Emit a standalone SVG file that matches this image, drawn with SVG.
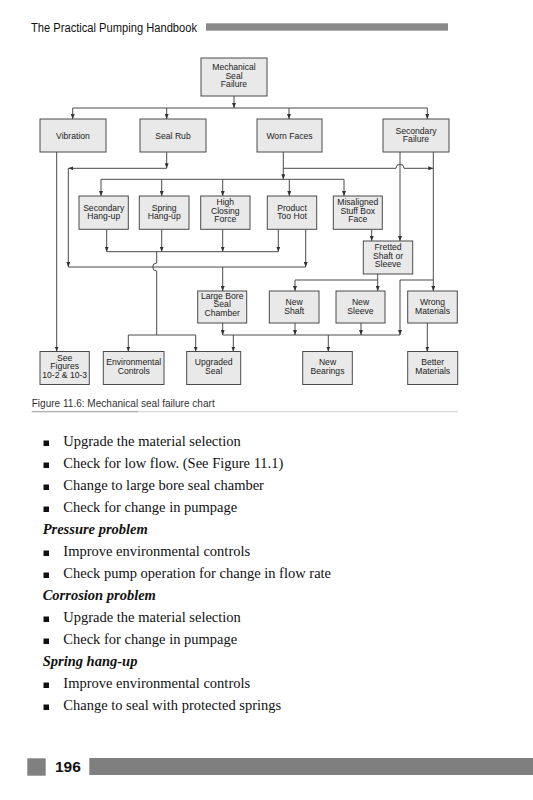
<svg xmlns="http://www.w3.org/2000/svg" width="533" height="800" viewBox="0 0 533 800">
<style>
.bx rect{fill:#e9e9e9;stroke:#4a4a4a;stroke-width:1}
.bx text{font-family:"Liberation Sans",Arial,sans-serif;font-size:8.6px;fill:#222;text-anchor:middle}
.cn path{fill:none;stroke:#4a4a4a;stroke-width:1}
.ar{marker-end:url(#ah)}
.body{font-family:"Liberation Serif","Times New Roman",serif;font-size:14.5px;fill:#111}
.hd{font-family:"Liberation Serif","Times New Roman",serif;font-size:14.5px;font-style:italic;font-weight:bold;fill:#111}
.bul{fill:#111}
</style>
<defs>
<marker id="ah" viewBox="0 0 10 8" refX="10" refY="4" markerWidth="5" markerHeight="4" markerUnits="userSpaceOnUse" orient="auto">
<path d="M0,0 L10,4 L0,8 z" fill="#333"/>
</marker>
</defs>
<rect width="533" height="800" fill="#fff"/>
<g id="header">
<text x="31" y="31.5" font-family="Liberation Sans,Arial,sans-serif" font-size="12" fill="#111" textLength="166" lengthAdjust="spacingAndGlyphs">The Practical Pumping Handbook</text>
<rect x="206" y="23.3" width="242" height="7.4" fill="#8a8a8a"/>
</g>
<g class="cn" id="connectors">
<path class="ar" d="M234,96 V108"/>
<path d="M72.7,108 H427.3"/>
<path class="ar" d="M72.7,108 V119"/>
<path class="ar" d="M166.7,108 V119"/>
<path class="ar" d="M289,108 V119"/>
<path class="ar" d="M427.3,108 V119"/>
<path class="ar" d="M56.7,152 V351.5"/>
<path class="ar" d="M166.7,152 V168.3"/>
<path class="ar" d="M166.7,168.3 H68.3"/>
<path class="ar" d="M68.3,168.3 V267"/>
<path d="M68.3,267 H305.7"/>
<path class="ar" d="M283.3,152 V179.3"/>
<path class="ar" d="M283.3,168.3 H396 A4,4 0 0 1 404,168.3 H433.3"/>
<path d="M101,179.3 H344"/>
<path class="ar" d="M101,179.3 V196"/>
<path class="ar" d="M161.7,179.3 V196"/>
<path class="ar" d="M222.7,179.3 V196"/>
<path class="ar" d="M289.3,179.3 V196"/>
<path class="ar" d="M344,179.3 V196"/>
<path class="ar" d="M400,152 V241"/>
<path class="ar" d="M433.3,152 V291"/>
<path class="ar" d="M106.7,229.3 V251.7"/>
<path class="ar" d="M161.7,229.3 V251.7"/>
<path class="ar" d="M222.7,229.3 V251.7"/>
<path class="ar" d="M278.3,229.3 V251.7"/>
<path d="M106.7,251.7 H278.3"/>
<path class="ar" d="M305.7,229.3 V267"/>
<path class="ar" d="M371.7,229.3 V241"/>
<path d="M156.7,251.7 V263 A4,4 0 0 0 156.7,271 V335"/>
<path d="M128.3,335 H195.7"/>
<path class="ar" d="M128.3,335 V351.5"/>
<path class="ar" d="M195.7,335 V351.5"/>
<path class="ar" d="M222.7,267 V291"/>
<path d="M377.7,274 V280 H295"/>
<path class="ar" d="M295,280 V291"/>
<path class="ar" d="M377.7,280 V291"/>
<path class="ar" d="M433.3,280 H400 V335"/>
<path class="ar" d="M222.7,323 V335"/>
<path class="ar" d="M295,323 V335"/>
<path class="ar" d="M361,323 V335"/>
<path d="M222.7,335 H400"/>
<path class="ar" d="M233.3,335 V351.5"/>
<path class="ar" d="M328.3,335 V351.5"/>
<path class="ar" d="M427.3,323 V351.5"/>
</g>
<g class="bx" id="n-msf"><rect x="201" y="58" width="66" height="38"/><text x="234" y="70">Mechanical</text><text x="234" y="78.5">Seal</text><text x="234" y="87">Failure</text></g>
<g class="bx" id="n-vibration"><rect x="40" y="119" width="66" height="33"/><text x="73" y="138.5">Vibration</text></g>
<g class="bx" id="n-sealrub"><rect x="140" y="119" width="66" height="33"/><text x="173" y="139">Seal Rub</text></g>
<g class="bx" id="n-wornfaces"><rect x="257" y="119" width="65" height="33"/><text x="289.5" y="138.5">Worn Faces</text></g>
<g class="bx" id="n-secfail"><rect x="383" y="119" width="66" height="33"/><text x="416" y="133.5">Secondary</text><text x="416" y="142">Failure</text></g>
<g class="bx" id="n-sechang"><rect x="79" y="196" width="49.3" height="33.3"/><text x="103.7" y="210.7">Secondary</text><text x="103.7" y="219.2">Hang-up</text></g>
<g class="bx" id="n-springhang"><rect x="139.3" y="196" width="49.7" height="33.3"/><text x="164.2" y="210.7">Spring</text><text x="164.2" y="219.2">Hang-up</text></g>
<g class="bx" id="n-hcf"><rect x="200.7" y="196" width="49.3" height="33.3"/><text x="225.3" y="205">High</text><text x="225.3" y="213.5">Closing</text><text x="225.3" y="222">Force</text></g>
<g class="bx" id="n-pth"><rect x="267.3" y="196" width="49.4" height="33.3"/><text x="292" y="210.7">Product</text><text x="292" y="219.2">Too Hot</text></g>
<g class="bx" id="n-misaligned"><rect x="333.3" y="196" width="49" height="33.3"/><text x="357.8" y="205">Misaligned</text><text x="357.8" y="213.5">Stuff Box</text><text x="357.8" y="222">Face</text></g>
<g class="bx" id="n-fretted"><rect x="363.3" y="241" width="49.4" height="33"/><text x="388" y="250">Fretted</text><text x="388" y="258.5">Shaft or</text><text x="388" y="267">Sleeve</text></g>
<g class="bx" id="n-lbsc"><rect x="197.7" y="291" width="49" height="32"/><text x="222.2" y="298.7">Large Bore</text><text x="222.2" y="307.3">Seal</text><text x="222.2" y="315.9">Chamber</text></g>
<g class="bx" id="n-newshaft"><rect x="269.3" y="291" width="49.7" height="32"/><text x="294.2" y="305">New</text><text x="294.2" y="313.5">Shaft</text></g>
<g class="bx" id="n-newsleeve"><rect x="336" y="291" width="49" height="32"/><text x="360.5" y="305">New</text><text x="360.5" y="313.5">Sleeve</text></g>
<g class="bx" id="n-wrongmat"><rect x="407.7" y="291" width="49.6" height="32"/><text x="432.5" y="305">Wrong</text><text x="432.5" y="313.5">Materials</text></g>
<g class="bx" id="n-seefig"><rect x="40" y="351.5" width="49.3" height="33"/><text x="64.7" y="360.5">See</text><text x="64.7" y="369">Figures</text><text x="64.7" y="377.5">10-2 &amp; 10-3</text></g>
<g class="bx" id="n-envctl"><rect x="103.3" y="351.5" width="60.7" height="33"/><text x="133.7" y="365">Environmental</text><text x="133.7" y="373.5">Controls</text></g>
<g class="bx" id="n-upgseal"><rect x="186.7" y="351.5" width="54" height="33"/><text x="213.7" y="365">Upgraded</text><text x="213.7" y="373.5">Seal</text></g>
<g class="bx" id="n-newbear"><rect x="302.7" y="351.5" width="49.6" height="33"/><text x="327.5" y="365">New</text><text x="327.5" y="373.5">Bearings</text></g>
<g class="bx" id="n-bettermat"><rect x="407.7" y="351.5" width="50" height="33"/><text x="432.7" y="365">Better</text><text x="432.7" y="373.5">Materials</text></g>
<g id="caption">
<text x="31.7" y="407" font-family="Liberation Sans,Arial,sans-serif" font-size="10" fill="#333" textLength="183" lengthAdjust="spacingAndGlyphs">Figure 11.6: Mechanical seal failure chart</text>
<line x1="31.7" y1="411.7" x2="458" y2="411.7" stroke="#c4c4c4" stroke-width="0.8"/>
<line x1="31.7" y1="411.7" x2="138" y2="411.7" stroke="#999" stroke-width="0.8"/>
</g>
<g id="text">
<rect class="bul" x="43.5" y="440.5" width="5.5" height="5.5"/><text class="body" x="63.3" y="446">Upgrade the material selection</text>
<rect class="bul" x="43.5" y="462.5" width="5.5" height="5.5"/><text class="body" x="63.3" y="468">Check for low flow. (See Figure 11.1)</text>
<rect class="bul" x="43.5" y="484.5" width="5.5" height="5.5"/><text class="body" x="63.3" y="490">Change to large bore seal chamber</text>
<rect class="bul" x="43.5" y="506.5" width="5.5" height="5.5"/><text class="body" x="63.3" y="512">Check for change in pumpage</text>
<text class="hd" x="42.7" y="534">Pressure problem</text>
<rect class="bul" x="43.5" y="550.5" width="5.5" height="5.5"/><text class="body" x="63.3" y="556">Improve environmental controls</text>
<rect class="bul" x="43.5" y="572.5" width="5.5" height="5.5"/><text class="body" x="63.3" y="578">Check pump operation for change in flow rate</text>
<text class="hd" x="42.7" y="600">Corrosion problem</text>
<rect class="bul" x="43.5" y="616.5" width="5.5" height="5.5"/><text class="body" x="63.3" y="622">Upgrade the material selection</text>
<rect class="bul" x="43.5" y="638.5" width="5.5" height="5.5"/><text class="body" x="63.3" y="644">Check for change in pumpage</text>
<text class="hd" x="42.7" y="666">Spring hang-up</text>
<rect class="bul" x="43.5" y="682.5" width="5.5" height="5.5"/><text class="body" x="63.3" y="688">Improve environmental controls</text>
<rect class="bul" x="43.5" y="704.5" width="5.5" height="5.5"/><text class="body" x="63.3" y="710">Change to seal with protected springs</text>
</g>
<g id="footer">
<rect x="27.3" y="758.3" width="18.4" height="17.4" fill="#808080"/>
<text x="55" y="772" font-family="Liberation Sans,Arial,sans-serif" font-size="15.5" font-weight="bold" fill="#111">196</text>
<rect x="89.3" y="758" width="444" height="17" fill="#7f7f7f"/>
</g>
</svg>
